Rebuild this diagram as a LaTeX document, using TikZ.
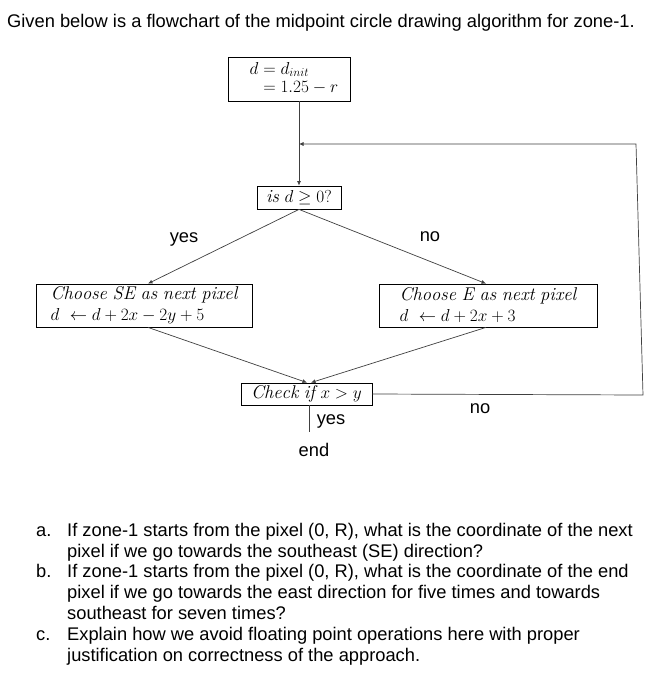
\documentclass[tikz,border=0pt]{standalone}
\usepackage{amsmath}
\usepackage{fontspec}
\newfontfamily\arialfont{Liberation Sans}
\usetikzlibrary{arrows.meta,calc}
\tikzset{
  box/.style={draw, line width=0.8pt, inner sep=0pt, align=left, font=\fontsize{18.5}{21}\selectfont},
  conn/.style={draw=black!75, line width=0.7pt, -{Latex[length=4.5pt,width=4pt]}},
  plain/.style={draw=black!75, line width=0.7pt},
  lbl/.style={font=\arialfont\fontsize{18.3}{21}\selectfont, inner sep=0pt},
  txt/.style={font=\arialfont\fontsize{18.3}{21}\selectfont, inner sep=0pt, anchor=base west},
}
\begin{document}
\begin{tikzpicture}[x=1pt,y=-1pt]
\useasboundingbox (0,0) rectangle (664,689);
\fill[white] (0,0) rectangle (664,689);

\node[txt] (title) at (7,27) {Given below is a flowchart of the midpoint circle drawing algorithm for zone-1.};

\node[box, minimum width=122pt, minimum height=44pt] (init) at (289,79)
  {\hspace{10pt}$\begin{aligned} d &= d_{init}\\[-6pt] &= 1.25 - r\end{aligned}$};
\node[box, minimum width=84pt, minimum height=23pt] (test) at (299,197.5)
  {$\mathit{is}\ d \geq 0?$};
\node[box, minimum width=216pt, minimum height=43pt] (se) at (144,305.5)
  {$\mathit{Choose\ SE\ as\ next\ pixel}$\\$d\ \leftarrow d + 2x - 2y + 5$};
\node[box, minimum width=218pt, minimum height=43pt] (e) at (488,305.5)
  {$\mathit{Choose\ E\ as\ next\ pixel}$\\$d\ \leftarrow d + 2x + 3$};
\node[box, minimum width=131pt, minimum height=22pt] (chk) at (306.5,394)
  {$\mathit{Check\ if}\ x > y$};

\coordinate (loop) at (299,144);
\coordinate (rb) at (643,395);
\coordinate (rt) at (636,144);
\coordinate (endc) at (309,432);

\draw[conn] (init.south -| test.north) -- (test.north);
\draw[conn] (test.south) -- ($(se.north)+(4,0)$);
\draw[conn] (test.south) -- ($(e.north)+(-2,0)$);
\draw[conn] ($(se.south)+(4,0)$) -- ($(chk.north)+(0.5,0)$);
\draw[conn] ($(e.south)+(-2,0)$) -- ($(chk.north)+(4.5,0)$);
\draw[conn] (chk.east) -- (rb) -- (rt) -- (loop);
\draw[plain] (chk.south -| endc) -- (endc);

\node[lbl] (yes1) at (184,239) {yes};
\node[lbl] (no1) at (430,237) {no};
\node[lbl] (no2) at (480,409) {no};
\node[lbl] (yes2) at (331,421) {yes};
\node[lbl] (endn) at (314,450) {end};

\node[txt] (la) at (36,536) {a.};
\node[txt] (qa) at (67,536) {\parbox[t]{595pt}{If zone-1 starts from the pixel (0, R), what is the coordinate of the next\\pixel if we go towards the southeast (SE) direction?}};
\node[txt] (lb) at (36,577) {b.};
\node[txt] (qb) at (67,577) {\parbox[t]{595pt}{If zone-1 starts from the pixel (0, R), what is the coordinate of the end\\pixel if we go towards the east direction for five times and towards\\southeast for seven times?}};
\node[txt] (lc) at (36,640) {c.};
\node[txt] (qc) at (67,640) {\parbox[t]{595pt}{Explain how we avoid floating point operations here with proper\\justification on correctness of the approach.}};
\end{tikzpicture}
\end{document}
